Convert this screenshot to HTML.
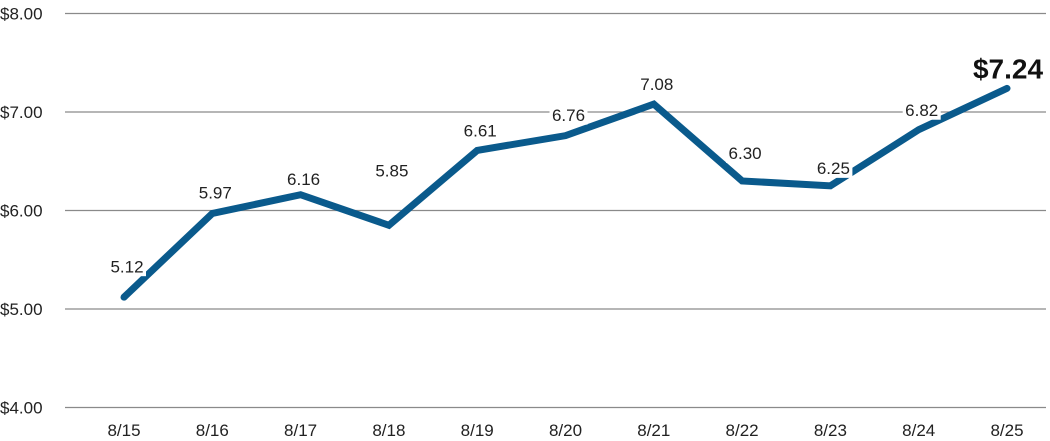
<!DOCTYPE html>
<html><head><meta charset="utf-8"><style>
html,body{margin:0;padding:0;background:#fff;}
svg{display:block;font-family:"Liberation Sans Narrow","Liberation Sans",sans-serif;}
</style></head><body>
<svg id="chart" width="1050" height="441" viewBox="0 0 1050 441" xmlns="http://www.w3.org/2000/svg"></svg>
<script>
const categories = ["8/15","8/16","8/17","8/18","8/19","8/20","8/21","8/22","8/23","8/24","8/25"];
const values = [5.12,5.97,6.16,5.85,6.61,6.76,7.08,6.30,6.25,6.82,7.24];
const valueLabels = ["5.12","5.97","6.16","5.85","6.61","6.76","7.08","6.30","6.25","6.82","$7.24"];
const yTicks = [4,5,6,7,8];
const yTickLabels = ["$4.00","$5.00","$6.00","$7.00","$8.00"];
// label vertical centre positions (pixel styling, not data)
const labelOffsets = [-31,-21,-16,-55,-20,-21,-20,-28,-18,-20,-20];

const svg = document.getElementById('chart');
const NS = 'http://www.w3.org/2000/svg';
const yMin = 4, yMax = 8, yTop = 13.5, yBot = 407.5;
const xFirst = 124, xLast = 1007;
function y(v){ return yBot - (v - yMin) / (yMax - yMin) * (yBot - yTop); }
function x(i){ return xFirst + i * (xLast - xFirst) / (categories.length - 1); }
function mk(tag, attrs){ const e = document.createElementNS(NS, tag); for (const k in attrs) e.setAttribute(k, attrs[k]); svg.appendChild(e); return e; }

yTicks.forEach((t, i) => {
  const l = mk('line', {x1: 65, x2: 1046, y1: y(t), y2: y(t), stroke: '#8a8a8a', 'stroke-width': 1.3});
  
  
  const tx = mk('text', {x: 0, y: y(t) + 6, 'font-size': 17, fill: '#222'});
  tx.textContent = yTickLabels[i];
  
  
});

categories.forEach((c, i) => {
  const tx = mk('text', {x: x(i), y: 436, 'font-size': 17, fill: '#222', 'text-anchor': 'middle'});
  tx.textContent = c;
  
  
});

const pts = values.map((v, i) => x(i) + ',' + y(v)).join(' ');
const line = mk('polyline', {points: pts, fill: 'none', stroke: '#0a5a8c', 'stroke-width': 7, 'stroke-linejoin': 'miter', 'stroke-linecap': 'round'});



values.forEach((v, i) => {
  const last = i === values.length - 1;
  const cy = y(v) + labelOffsets[i];
  const fs = last ? 28 : 17;
  const w = valueLabels[i].length * fs * 0.5 + 4;
  if (!last) {
    const bg = mk('rect', {x: x(i) + 3 - w / 2, y: cy - 10, width: w, height: 20, fill: '#fff'});
    
    
  }
  const tx = mk('text', {x: x(i) + (last ? 1 : 3), y: cy + fs * 0.36, 'font-size': fs, fill: last ? '#111' : '#222', 'text-anchor': 'middle', 'font-weight': last ? 'bold' : 'normal'});
  tx.textContent = valueLabels[i];
  
  
});
</script>
</body></html>
